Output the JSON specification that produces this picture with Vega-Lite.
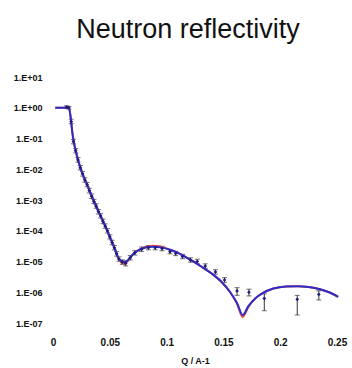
{
  "$schema": "https://vega.github.io/schema/vega-lite/v6.json",
  "width": 284,
  "height": 246,
  "autosize": {"type": "none"},
  "padding": {"left": 53, "top": 77, "right": 15, "bottom": 45},
  "background": "white",
  "config": {"view": {"stroke": null}, "font": "Liberation Sans"},
  "title": {"text": "Neutron reflectivity", "fontSize": 27, "fontWeight": "normal", "font": "Liberation Sans", "color": "#111", "anchor": "middle", "offset": 29, "dx": -7},
  "datasets": {
    "model": [
      {"q": 0.002, "r": 1, "s": "fit"}, {"q": 0.014, "r": 1, "s": "fit"}, {"q": 0.0155, "r": 0.501, "s": "fit"}, {"q": 0.017, "r": 0.158, "s": "fit"}, {"q": 0.0185, "r": 0.0708, "s": "fit"}, {"q": 0.02, "r": 0.0398, "s": "fit"}, {"q": 0.022, "r": 0.01995, "s": "fit"}, {"q": 0.026, "r": 0.00708, "s": "fit"}, {"q": 0.03, "r": 0.00316, "s": "fit"}, {"q": 0.035, "r": 0.00112, "s": "fit"}, {"q": 0.041, "r": 0.000355, "s": "fit"}, {"q": 0.046, "r": 0.000141, "s": "fit"}, {"q": 0.05, "r": 6.31e-5, "s": "fit"}, {"q": 0.054, "r": 2.82e-5, "s": "fit"}, {"q": 0.057, "r": 1.41e-5, "s": "fit"}, {"q": 0.06, "r": 9.33e-6, "s": "fit"}, {"q": 0.063, "r": 8.32e-6, "s": "fit"}, {"q": 0.066, "r": 1.05e-5, "s": "fit"}, {"q": 0.07, "r": 1.66e-5, "s": "fit"}, {"q": 0.075, "r": 2.29e-5, "s": "fit"}, {"q": 0.08, "r": 2.88e-5, "s": "fit"}, {"q": 0.088, "r": 3.24e-5, "s": "fit"}, {"q": 0.095, "r": 3.09e-5, "s": "fit"}, {"q": 0.103, "r": 2.4e-5, "s": "fit"}, {"q": 0.11, "r": 1.91e-5, "s": "fit"}, {"q": 0.118, "r": 1.32e-5, "s": "fit"}, {"q": 0.125, "r": 9.33e-6, "s": "fit"}, {"q": 0.132, "r": 6.31e-6, "s": "fit"}, {"q": 0.14, "r": 3.98e-6, "s": "fit"}, {"q": 0.148, "r": 2.24e-6, "s": "fit"}, {"q": 0.156, "r": 1.0e-6, "s": "fit"}, {"q": 0.162, "r": 4.17e-7, "s": "fit"}, {"q": 0.167, "r": 1.58e-7, "s": "fit"}, {"q": 0.172, "r": 3.31e-7, "s": "fit"}, {"q": 0.178, "r": 6.31e-7, "s": "fit"}, {"q": 0.185, "r": 9.55e-7, "s": "fit"}, {"q": 0.194, "r": 1.32e-6, "s": "fit"}, {"q": 0.205, "r": 1.55e-6, "s": "fit"}, {"q": 0.215, "r": 1.58e-6, "s": "fit"}, {"q": 0.225, "r": 1.48e-6, "s": "fit"}, {"q": 0.235, "r": 1.26e-6, "s": "fit"}, {"q": 0.243, "r": 1.0e-6, "s": "fit"}, {"q": 0.251, "r": 7.08e-7, "s": "fit"},
      {"q": 0.002, "r": 1, "s": "model"}, {"q": 0.014, "r": 1, "s": "model"}, {"q": 0.0155, "r": 0.501, "s": "model"}, {"q": 0.017, "r": 0.158, "s": "model"}, {"q": 0.0185, "r": 0.0708, "s": "model"}, {"q": 0.02, "r": 0.0398, "s": "model"}, {"q": 0.022, "r": 0.01995, "s": "model"}, {"q": 0.026, "r": 0.00708, "s": "model"}, {"q": 0.03, "r": 0.00316, "s": "model"}, {"q": 0.035, "r": 0.00112, "s": "model"}, {"q": 0.041, "r": 0.000355, "s": "model"}, {"q": 0.046, "r": 0.000141, "s": "model"}, {"q": 0.05, "r": 6.31e-5, "s": "model"}, {"q": 0.054, "r": 2.82e-5, "s": "model"}, {"q": 0.057, "r": 1.41e-5, "s": "model"}, {"q": 0.06, "r": 1.05e-5, "s": "model"}, {"q": 0.063, "r": 9.55e-6, "s": "model"}, {"q": 0.066, "r": 1.12e-5, "s": "model"}, {"q": 0.07, "r": 1.66e-5, "s": "model"}, {"q": 0.075, "r": 2.29e-5, "s": "model"}, {"q": 0.08, "r": 2.75e-5, "s": "model"}, {"q": 0.088, "r": 3.02e-5, "s": "model"}, {"q": 0.095, "r": 2.88e-5, "s": "model"}, {"q": 0.103, "r": 2.4e-5, "s": "model"}, {"q": 0.11, "r": 1.91e-5, "s": "model"}, {"q": 0.118, "r": 1.32e-5, "s": "model"}, {"q": 0.125, "r": 9.33e-6, "s": "model"}, {"q": 0.132, "r": 6.31e-6, "s": "model"}, {"q": 0.14, "r": 3.98e-6, "s": "model"}, {"q": 0.148, "r": 2.24e-6, "s": "model"}, {"q": 0.156, "r": 1.0e-6, "s": "model"}, {"q": 0.162, "r": 4.47e-7, "s": "model"}, {"q": 0.167, "r": 1.82e-7, "s": "model"}, {"q": 0.172, "r": 3.55e-7, "s": "model"}, {"q": 0.178, "r": 6.31e-7, "s": "model"}, {"q": 0.185, "r": 9.55e-7, "s": "model"}, {"q": 0.194, "r": 1.32e-6, "s": "model"}, {"q": 0.205, "r": 1.55e-6, "s": "model"}, {"q": 0.215, "r": 1.58e-6, "s": "model"}, {"q": 0.225, "r": 1.48e-6, "s": "model"}, {"q": 0.235, "r": 1.26e-6, "s": "model"}, {"q": 0.243, "r": 1.0e-6, "s": "model"}, {"q": 0.251, "r": 7.08e-7, "s": "model"}
    ],
    "meas": [
      {"q": 0.012, "r": 1.05, "lo": 0.95, "hi": 1.16},
      {"q": 0.014, "r": 1.0, "lo": 0.9, "hi": 1.1},
      {"q": 0.016, "r": 0.355, "lo": 0.3, "hi": 0.42},
      {"q": 0.018, "r": 0.0794, "lo": 0.067, "hi": 0.094},
      {"q": 0.02, "r": 0.0398, "lo": 0.034, "hi": 0.047},
      {"q": 0.022, "r": 0.02, "lo": 0.017, "hi": 0.024},
      {"q": 0.024, "r": 0.0112, "lo": 0.0095, "hi": 0.0132},
      {"q": 0.026, "r": 0.00708, "lo": 0.006, "hi": 0.0084},
      {"q": 0.028, "r": 0.00447, "lo": 0.0038, "hi": 0.0053},
      {"q": 0.03, "r": 0.00316, "lo": 0.0027, "hi": 0.0037},
      {"q": 0.032, "r": 0.002, "lo": 0.0017, "hi": 0.0024},
      {"q": 0.034, "r": 0.00132, "lo": 0.00112, "hi": 0.00156},
      {"q": 0.036, "r": 0.000891, "lo": 0.00076, "hi": 0.00105},
      {"q": 0.038, "r": 0.000631, "lo": 0.00054, "hi": 0.00075},
      {"q": 0.04, "r": 0.000417, "lo": 0.00035, "hi": 0.00049},
      {"q": 0.042, "r": 0.000302, "lo": 0.00026, "hi": 0.00036},
      {"q": 0.044, "r": 0.0002, "lo": 0.00017, "hi": 0.00024},
      {"q": 0.046, "r": 0.000141, "lo": 0.00012, "hi": 0.000167},
      {"q": 0.048, "r": 0.0001, "lo": 8.5e-5, "hi": 0.000118},
      {"q": 0.05, "r": 6.31e-5, "lo": 5.4e-5, "hi": 7.4e-5},
      {"q": 0.052, "r": 4.17e-5, "lo": 3.5e-5, "hi": 4.9e-5},
      {"q": 0.054, "r": 2.82e-5, "lo": 2.4e-5, "hi": 3.3e-5},
      {"q": 0.056, "r": 1.78e-5, "lo": 1.5e-5, "hi": 2.1e-5},
      {"q": 0.058, "r": 1.2e-5, "lo": 1.02e-5, "hi": 1.42e-5},
      {"q": 0.061, "r": 9.55e-6, "lo": 8.1e-6, "hi": 1.13e-5},
      {"q": 0.064, "r": 8.71e-6, "lo": 7.2e-6, "hi": 1.05e-5},
      {"q": 0.068, "r": 1.32e-5, "lo": 1.12e-5, "hi": 1.56e-5},
      {"q": 0.072, "r": 1.91e-5, "lo": 1.62e-5, "hi": 2.25e-5},
      {"q": 0.078, "r": 2.51e-5, "lo": 2.13e-5, "hi": 2.96e-5},
      {"q": 0.084, "r": 2.82e-5, "lo": 2.4e-5, "hi": 3.3e-5},
      {"q": 0.09, "r": 2.82e-5, "lo": 2.4e-5, "hi": 3.3e-5},
      {"q": 0.096, "r": 2.63e-5, "lo": 2.24e-5, "hi": 3.1e-5},
      {"q": 0.103, "r": 2.09e-5, "lo": 1.78e-5, "hi": 2.46e-5},
      {"q": 0.108, "r": 1.82e-5, "lo": 1.55e-5, "hi": 2.15e-5},
      {"q": 0.114, "r": 1.45e-5, "lo": 1.23e-5, "hi": 1.71e-5},
      {"q": 0.121, "r": 1.12e-5, "lo": 9.5e-6, "hi": 1.32e-5},
      {"q": 0.127, "r": 1.0e-5, "lo": 8.5e-6, "hi": 1.18e-5},
      {"q": 0.134, "r": 7.08e-6, "lo": 6.0e-6, "hi": 8.4e-6},
      {"q": 0.143, "r": 4.57e-6, "lo": 3.9e-6, "hi": 5.4e-6},
      {"q": 0.151, "r": 2.51e-6, "lo": 2.1e-6, "hi": 3.0e-6},
      {"q": 0.162, "r": 1.1e-6, "lo": 7.94e-7, "hi": 1.41e-6},
      {"q": 0.1725, "r": 1.0e-6, "lo": 7.59e-7, "hi": 1.26e-6},
      {"q": 0.186, "r": 6.31e-7, "lo": 2.51e-7, "hi": 8.91e-7},
      {"q": 0.215, "r": 5.89e-7, "lo": 1.82e-7, "hi": 7.94e-7},
      {"q": 0.234, "r": 8.51e-7, "lo": 5.62e-7, "hi": 1.12e-6}
    ]
  },
  "layer": [
    {
      "data": {"name": "meas"},
      "mark": {"type": "rule", "color": "#333", "strokeWidth": 1},
      "encoding": {
        "x": {"field": "q", "type": "quantitative", "scale": {"domain": [0, 0.25], "nice": false},
          "axis": {"values": [0, 0.05, 0.1, 0.15, 0.2, 0.25], "format": "~g", "domain": false, "ticks": false, "grid": false, "labelFont": "Liberation Sans", "labelFontWeight": "bold", "labelFontSize": 10, "labelColor": "#111", "labelPadding": 14, "title": "Q / A-1", "titleFont": "Liberation Sans", "titleFontWeight": "bold", "titleFontSize": 9, "titleColor": "#111", "titlePadding": 9, "labelFlush": false}},
        "y": {"field": "lo", "type": "quantitative", "scale": {"type": "log", "domain": [1e-7, 10], "nice": false},
          "axis": {"values": [1e-7, 1e-6, 1e-5, 1e-4, 1e-3, 1e-2, 1e-1, 1, 10], "domain": false, "ticks": false, "grid": false, "labelFont": "Liberation Sans", "labelFontWeight": "bold", "labelFontSize": 9, "labelColor": "#111", "labelPadding": 11, "title": null,
            "labelExpr": "'1.E' + (round(log(datum.value)/LN10) >= 0 ? '+' : '-') + (abs(round(log(datum.value)/LN10)) < 10 ? '0' : '') + abs(round(log(datum.value)/LN10))"}},
        "y2": {"field": "hi"}
      }
    },
    {
      "data": {"name": "meas"},
      "mark": {"type": "tick", "color": "#333", "orient": "horizontal", "size": 5, "thickness": 1},
      "encoding": {"x": {"field": "q", "type": "quantitative"}, "y": {"field": "lo", "type": "quantitative"}}
    },
    {
      "data": {"name": "meas"},
      "mark": {"type": "tick", "color": "#333", "orient": "horizontal", "size": 5, "thickness": 1},
      "encoding": {"x": {"field": "q", "type": "quantitative"}, "y": {"field": "hi", "type": "quantitative"}}
    },
    {
      "data": {"name": "model"},
      "mark": {"type": "line", "strokeWidth": 2, "interpolate": "monotone"},
      "encoding": {
        "x": {"field": "q", "type": "quantitative"},
        "y": {"field": "r", "type": "quantitative"},
        "color": {"field": "s", "type": "nominal", "scale": {"domain": ["fit", "model"], "range": ["#e8503a", "#2c2cc8"]}, "legend": null}
      }
    },
    {
      "data": {"name": "meas"},
      "mark": {"type": "point", "shape": "diamond", "filled": true, "size": 14, "color": "#1c1c7a", "opacity": 1},
      "encoding": {"x": {"field": "q", "type": "quantitative"}, "y": {"field": "r", "type": "quantitative"}}
    }
  ]
}
